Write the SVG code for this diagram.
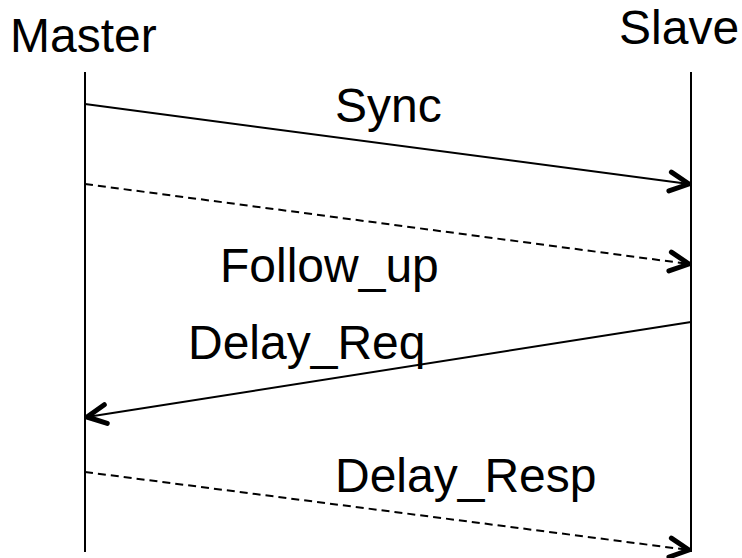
<svg xmlns="http://www.w3.org/2000/svg" width="742" height="558" viewBox="0 0 742 558">
<style>
text{font-family:"Liberation Sans",Arial,sans-serif;font-size:48px;fill:#000}
.life{stroke:#000;stroke-width:2;fill:none}
.msg{stroke:#000;stroke-width:2;fill:none}
.dash{stroke-dasharray:8,5}
</style>
<defs>
<marker id="ah" viewBox="0 0 26 26" refX="22" refY="13" markerWidth="26" markerHeight="26" markerUnits="userSpaceOnUse" orient="auto">
<path d="M3,3.5 L22,13 L3,22.5" fill="none" stroke="#000" stroke-width="5" stroke-linecap="round" stroke-linejoin="round"/>
</marker>
</defs>
<rect width="742" height="558" fill="#fff"/>
<g id="master">
<text x="10" y="52">Master</text>
<line class="life" x1="85" y1="72" x2="85" y2="552"/>
</g>
<g id="slave">
<text x="619" y="44">Slave</text>
<line class="life" x1="691" y1="72" x2="691" y2="552"/>
</g>
<g id="connectors">
<line class="msg" x1="85" y1="104" x2="689" y2="184" marker-end="url(#ah)"/>
<line class="msg dash" x1="85" y1="184" x2="689" y2="264" marker-end="url(#ah)"/>
<line class="msg" x1="691" y1="322" x2="87" y2="417" marker-end="url(#ah)"/>
<line class="msg dash" x1="85" y1="472" x2="689" y2="550" marker-end="url(#ah)"/>
</g>
<g id="labels">
<text x="335" y="122">Sync</text>
<text x="220" y="282">Follow_up</text>
<text x="188" y="359">Delay_Req</text>
<text x="335" y="492">Delay_Resp</text>
</g>
</svg>
